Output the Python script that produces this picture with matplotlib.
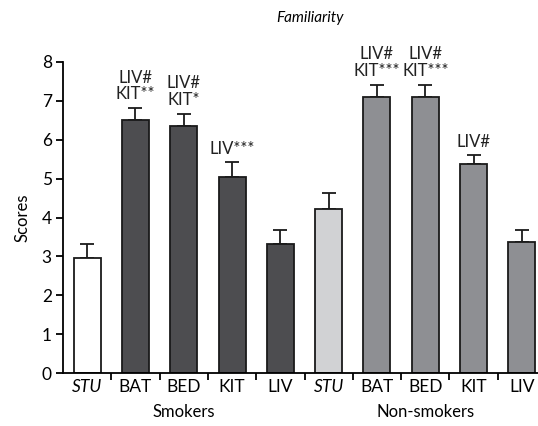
import matplotlib.pyplot as plt
import numpy as np

plt.rcParams['font.family'] = ['Lato', 'DejaVu Sans']

# bar data: smokers then non-smokers
labels = ['STU', 'BAT', 'BED', 'KIT', 'LIV', 'STU', 'BAT', 'BED', 'KIT', 'LIV']
scores = [2.95, 6.50, 6.35, 5.04, 3.33, 4.22, 7.10, 7.10, 5.37, 3.36]
errors = [0.37, 0.32, 0.32, 0.38, 0.36, 0.41, 0.32, 0.32, 0.23, 0.33]
signif = ['', 'LIV#\nKIT**', 'LIV#\nKIT*', 'LIV***', '',
          '', 'LIV#\nKIT***', 'LIV#\nKIT***', 'LIV#', '']
groups = ['Smokers', 'Non-smokers']

fill = ['white', '#4d4d50', '#4d4d50', '#4d4d50', '#4d4d50',
        '#d1d2d4', '#8e8f93', '#8e8f93', '#8e8f93', '#8e8f93']


def main():
    fig = plt.figure(figsize=(5.38, 4.26), dpi=100)
    ax = fig.add_axes([63 / 538, 53 / 426, 483 / 538, 311 / 426])

    x = np.arange(len(scores))
    ax.bar(x, scores, width=0.56, color=fill, edgecolor='#1a1a1a', linewidth=1.3, zorder=2)
    ax.errorbar(x, scores, yerr=[np.zeros(len(errors)), errors], fmt='none',
                ecolor='#1a1a1a', elinewidth=1.3, capsize=5, capthick=1.3, zorder=1)

    for xi, s, e, txt in zip(x, scores, errors, signif):
        if txt:
            ax.annotate(txt, (xi, s + e), xytext=(0, 4), textcoords='offset points',
                        ha='center', va='bottom', fontsize=12, linespacing=1.05,
                        color='#222222')

    ax.set_xlim(-0.5, len(scores) - 0.5)
    ax.set_ylim(0, 8)
    ax.set_yticks(range(0, 9))
    ax.tick_params(axis='y', length=5, width=1.3, labelsize=12.5, pad=3)

    # tick marks sit between bars, labels under bars
    ax.set_xticks(x[:-1] + 0.5)
    ax.set_xticklabels([])
    ax.tick_params(axis='x', which='major', length=5, width=1.3)
    ax.set_xticks(x, minor=True)
    ax.set_xticklabels(labels, minor=True, fontsize=12.5)
    ax.tick_params(axis='x', which='minor', length=0, pad=4)
    for i, t in enumerate(ax.get_xticklabels(minor=True)):
        if labels[i] == 'STU':
            t.set_fontstyle('italic')

    for side in ['top', 'right']:
        ax.spines[side].set_visible(False)
    for side in ['left', 'bottom']:
        ax.spines[side].set_linewidth(1.3)

    ax.set_ylabel('Scores', fontsize=12, labelpad=8)
    fig.text(310 / 538, 1 - 18 / 426, 'Familiarity', ha='center', va='center',
             fontsize=11, style='italic')
    for gi, g in enumerate(groups):
        ax.annotate(g, (x[gi * 5 + 2], 0), xytext=(0, -22), textcoords='offset points',
                    ha='center', va='top', fontsize=12, annotation_clip=False)

    fig.savefig('out.png', dpi=100)


if __name__ == '__main__':
    main()
